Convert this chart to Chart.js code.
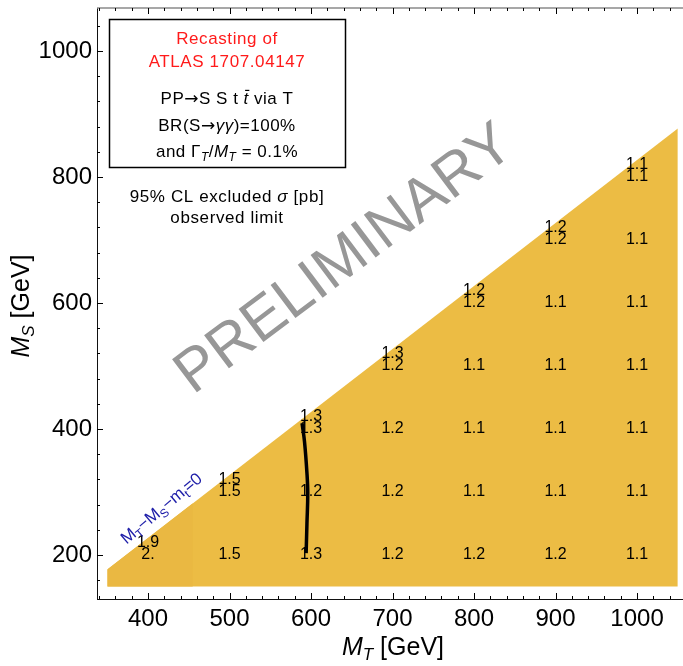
<!DOCTYPE html>
<html>
<head>
<meta charset="utf-8">
<script src="https://cdn.jsdelivr.net/npm/chart.js@4/dist/chart.umd.min.js"></script>
<style>
  html, body { margin: 0; padding: 0; background: #fff; }
  #wrap { width: 683px; height: 666px; }
</style>
</head>
<body>
<div id="wrap"><canvas id="c" width="683" height="666"></canvas></div>
<script>
const massT = [400, 500, 600, 700, 800, 900, 1000];
const rowMS = [200, 300, 400, 500, 600, 700, 800];

// 95% CL observed limit [pb] on the grid, null = not in the allowed region
const limitMS200 = [2.0, 1.5, 1.3, 1.2, 1.2, 1.2, 1.1];
const limitMS300 = [null, 1.5, 1.2, 1.2, 1.1, 1.1, 1.1];
const limitMS400 = [null, null, 1.3, 1.2, 1.1, 1.1, 1.1];
const limitMS500 = [null, null, null, 1.2, 1.1, 1.1, 1.1];
const limitMS600 = [null, null, null, null, 1.2, 1.1, 1.1];
const limitMS700 = [null, null, null, null, null, 1.2, 1.1];
const limitMS800 = [null, null, null, null, null, null, 1.1];

// extra points sitting just below the M_T - M_S - m_t = 0 edge
const edgeMS = [219, 319, 419, 519, 619, 719, 819];
const edgeLimit = [1.9, 1.5, 1.3, 1.3, 1.2, 1.2, 1.1];

// shaded region: upper edge M_S = M_T - m_t, down to M_S = 150
const regionMT = [350, 1050];
const regionMS = [177, 877];
const regionFloor = 150;
const leftBandMT = [350, 455];
const leftBandMS = [177, 282];

// black line near M_T = 600
const lineMT = [589, 592, 595, 596, 595, 594];
const lineMS = [409, 380, 330, 298, 250, 203];

const FAM = '"Liberation Sans", Arial, Helvetica, sans-serif';
const ARROW = '"DejaVu Sans", sans-serif';

function fmt(v) {
    return Number.isInteger(v) ? v + "." : v.toFixed(1);
}

function fontOf(r) {
    return (r.italic ? "italic " : "") + r.size + "px " + (r.fam || FAM);
}

// draw a row of text pieces (for italics / subscripts), centred on x
function drawRuns(ctx, runs, x, y, spacing) {
    ctx.textAlign = "left";
    ctx.textBaseline = "alphabetic";
    ctx.letterSpacing = (spacing || 0) + "px";
    let total = 0;
    const widths = runs.map(r => {
        ctx.font = fontOf(r);
        const w = ctx.measureText(r.t).width;
        total += w;
        return w;
    });
    let cx = x - total / 2;
    runs.forEach((r, i) => {
        ctx.font = fontOf(r);
        ctx.fillStyle = r.color || "#000";
        ctx.fillText(r.t, cx, y + (r.dy || 0));
        if (r.bar) {
            ctx.strokeStyle = r.color || "#000";
            ctx.lineWidth = 1.2;
            ctx.beginPath();
            ctx.moveTo(cx + 1.5, y - r.size * 0.8);
            ctx.lineTo(cx + widths[i] + 0.5, y - r.size * 0.8);
            ctx.stroke();
        }
        cx += widths[i];
    });
    ctx.letterSpacing = "0px";
}

const limitRows = [limitMS200, limitMS300, limitMS400, limitMS500, limitMS600, limitMS700, limitMS800];
const cellPoints = [];
rowMS.forEach((ms, r) => {
    massT.forEach((mt, c) => {
        const v = limitRows[r][c];
        if (v !== null) cellPoints.push({ x: mt, y: ms, v: v });
    });
});
massT.forEach((mt, c) => cellPoints.push({ x: mt, y: edgeMS[c], v: edgeLimit[c] }));

const toXY = (xs, ys) => xs.map((x, i) => ({ x: x, y: ys[i] }));

const decor = {
    id: "decor",
    afterDatasetsDraw(chart) {
        const ctx = chart.ctx;
        // grid values
        const meta = chart.getDatasetMeta(3);
        ctx.save();
        ctx.font = "16px " + FAM;
        ctx.fillStyle = "#000";
        ctx.textAlign = "center";
        ctx.textBaseline = "middle";
        meta.data.forEach((pt, i) => {
            ctx.fillText(fmt(cellPoints[i].v), pt.x, pt.y);
        });
        ctx.restore();
    },
    afterDraw(chart) {
        const ctx = chart.ctx;
        const a = chart.chartArea;
        const xs = chart.scales.x, ys = chart.scales.y;
        ctx.save();

        // frame top
        ctx.strokeStyle = "#8a8a8a";
        ctx.lineWidth = 1.5;
        ctx.beginPath();
        ctx.moveTo(a.left, a.top);
        ctx.lineTo(a.right, a.top);
        ctx.stroke();

        // inward ticks
        ctx.strokeStyle = "#000";
        ctx.lineWidth = 1;
        xs.ticks.forEach(t => {
            const px = Math.round(xs.getPixelForValue(t.value)) + 0.5;
            const len = t.value % 100 === 0 ? 6 : 3;
            ctx.beginPath();
            ctx.moveTo(px, a.bottom);
            ctx.lineTo(px, a.bottom - len);
            ctx.moveTo(px, a.top);
            ctx.lineTo(px, a.top + len);
            ctx.stroke();
        });
        ys.ticks.forEach(t => {
            const py = Math.round(ys.getPixelForValue(t.value)) + 0.5;
            const len = t.value % 200 === 0 ? 6 : 3;
            ctx.beginPath();
            ctx.moveTo(a.left, py);
            ctx.lineTo(a.left + len, py);
            ctx.stroke();
        });

        // axis titles
        drawRuns(ctx, [
            { t: "M", size: 25, italic: true },
            { t: "T", size: 17, italic: true, dy: 5 },
            { t: " [GeV]", size: 25 }
        ], 393, 655);
        ctx.save();
        ctx.translate(29, 306);
        ctx.rotate(-Math.PI / 2);
        drawRuns(ctx, [
            { t: "M", size: 25, italic: true },
            { t: "S", size: 17, italic: true, dy: 5 },
            { t: " [GeV]", size: 25 }
        ], 0, 0);
        ctx.restore();

        // info box
        ctx.strokeStyle = "#000";
        ctx.lineWidth = 1.5;
        ctx.strokeRect(109.5, 19.5, 236, 148);
        const red = "#ff1a1a";
        drawRuns(ctx, [{ t: "Recasting of", size: 17, color: red }], 227, 44, 0.6);
        drawRuns(ctx, [{ t: "ATLAS 1707.04147", size: 17, color: red }], 227, 67, 0.6);
        drawRuns(ctx, [
            { t: "PP", size: 17 },
            { t: "\u2192", size: 17, fam: ARROW },
            { t: "S S t ", size: 17 },
            { t: "t", size: 17, italic: true, bar: true },
            { t: " via T", size: 17 }
        ], 227, 104, 0.5);
        drawRuns(ctx, [
            { t: "BR(S", size: 17 },
            { t: "\u2192", size: 17, fam: ARROW },
            { t: "\u03b3\u03b3", size: 17, italic: true },
            { t: ")=100%", size: 17 }
        ], 227, 131, 0.5);
        drawRuns(ctx, [
            { t: "and \u0393", size: 17 },
            { t: "T", size: 12, italic: true, dy: 4 },
            { t: "/", size: 17 },
            { t: "M", size: 17, italic: true },
            { t: "T", size: 12, italic: true, dy: 4 },
            { t: " = 0.1%", size: 17 }
        ], 227, 157, 0.5);
        drawRuns(ctx, [
            { t: "95% CL excluded ", size: 17 },
            { t: "\u03c3", size: 17, italic: true },
            { t: " [pb]", size: 17 }
        ], 227, 202, 0.6);
        drawRuns(ctx, [{ t: "observed limit", size: 17 }], 227, 223, 0.6);

        // edge label
        const blue = "#1c1ca8";
        ctx.save();
        ctx.translate(161, 508);
        ctx.rotate(-40 * Math.PI / 180);
        drawRuns(ctx, [
            { t: "M", size: 17, color: blue },
            { t: "T", size: 12, color: blue, dy: 4 },
            { t: "\u2212M", size: 17, color: blue },
            { t: "S", size: 12, color: blue, dy: 4 },
            { t: "\u2212m", size: 17, color: blue },
            { t: "t", size: 12, color: blue, dy: 4 },
            { t: "=0", size: 17, color: blue }
        ], 0, 6);
        ctx.restore();

        // watermark
        ctx.save();
        ctx.translate(345, 260);
        ctx.rotate(-37 * Math.PI / 180);
        ctx.font = "60px " + FAM;
        ctx.fillStyle = "#979797";
        ctx.textAlign = "center";
        ctx.textBaseline = "middle";
        ctx.fillText("PRELIMINARY", 0, 0);
        ctx.restore();

        ctx.restore();
    }
};

new Chart(document.getElementById("c"), {
    type: "scatter",
    data: {
        datasets: [
            {
                type: "line",
                order: 3,
                data: toXY(regionMT, regionMS),
                fill: { value: regionFloor },
                backgroundColor: "#ecbc44",
                borderWidth: 0,
                pointRadius: 0
            },
            {
                type: "line",
                order: 2,
                data: toXY(leftBandMT, leftBandMS),
                fill: { value: regionFloor },
                backgroundColor: "#eab842",
                borderWidth: 0,
                pointRadius: 0
            },
            {
                type: "line",
                order: 1,
                data: toXY(lineMT, lineMS),
                showLine: true,
                borderColor: "#000",
                borderWidth: 3.5,
                tension: 0.4,
                fill: false,
                pointRadius: 0
            },
            {
                order: 0,
                data: cellPoints.map(p => ({ x: p.x, y: p.y })),
                pointRadius: 0
            }
        ]
    },
    options: {
        responsive: false,
        devicePixelRatio: 1,
        animation: false,
        layout: { padding: { top: 8, right: 0, left: 0, bottom: 0 } },
        plugins: { legend: { display: false }, tooltip: { enabled: false } },
        scales: {
            x: {
                type: "linear",
                min: 337.4,
                max: 1056.4,
                grid: { display: false, drawTicks: false },
                border: { display: true, color: "#111", width: 1 },
                ticks: {
                    stepSize: 20,
                    includeBounds: false,
                    autoSkip: false,
                    maxRotation: 0,
                    padding: 6,
                    color: "#000",
                    font: { family: FAM, size: 24 },
                    callback: v => (v % 100 === 0 ? String(v) : "")
                },
                afterFit(scale) {
                    scale.height = 67;
                    scale.paddingLeft = 0;
                    scale.paddingRight = 0;
                }
            },
            y: {
                type: "linear",
                min: 130.2,
                max: 1068.3,
                grid: { display: false, drawTicks: false },
                border: { display: true, color: "#111", width: 1 },
                ticks: {
                    stepSize: 40,
                    includeBounds: false,
                    autoSkip: false,
                    padding: 5,
                    color: "#000",
                    font: { family: FAM, size: 24 },
                    callback: v => (v % 200 === 0 ? String(v) : "")
                },
                afterFit(scale) {
                    scale.width = 97;
                    scale.paddingTop = 0;
                    scale.paddingBottom = 0;
                }
            }
        }
    },
    plugins: [decor]
});
</script>
</body>
</html>
